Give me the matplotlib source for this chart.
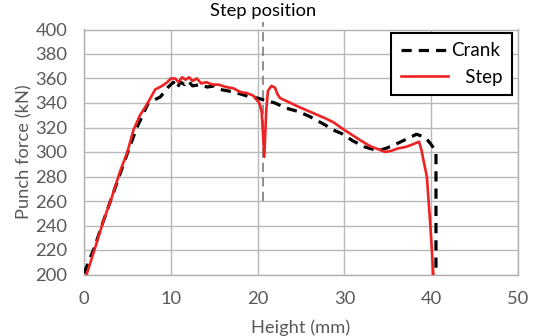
import matplotlib
matplotlib.use("Agg")
import matplotlib.pyplot as plt

crank_x = [0.0, 1.2, 2.2, 3.2, 4.5, 5.3, 6.1, 7.4, 8.8, 9.7, 10.3, 10.7, 11.1, 11.6, 12.0, 12.5,
           13.4, 14.2, 15.0, 15.7, 16.5, 17.2, 18.2, 19.1, 20.0, 20.7, 21.5, 22.0, 23.35, 24.7,
           26.0, 27.8, 28.7, 29.7, 31.0, 32.4, 33.9, 34.8, 35.8, 37.0, 38.3, 39.3, 39.9, 40.4,
           40.55, 40.55]
crank_y = [201, 222, 243, 263, 289, 305, 320, 340, 345, 353, 357, 352, 357, 355, 358, 354,
           355, 353, 354, 351, 350, 349, 347, 345, 344, 342.5, 341, 340, 335.7, 333,
           329, 322, 318, 315, 309, 304, 301, 303, 306, 310, 314.5, 312, 307, 302,
           300, 200]

red_x = [0.3, 1.2, 2.2, 3.2, 4.15, 5.0, 5.7, 6.45, 7.0, 7.5, 8.2, 9.0, 9.6, 10.0, 10.5, 10.9,
         11.3, 11.7, 12.1, 12.5, 13.0, 13.5, 14.1, 14.8, 15.5, 16.4, 17.2, 18.0, 18.8, 19.5,
         19.9, 20.2, 20.47, 20.77, 21.0, 21.2, 21.6, 22.0, 22.3, 22.6, 23.5, 24.7, 26.0, 27.8,
         28.8, 29.7, 31.2, 32.2, 33.1, 34.0, 34.7, 35.4, 36.2, 37.0, 37.8, 38.6, 38.9, 39.1,
         39.5, 39.9, 40.25]
red_y = [200, 220, 243, 263, 284, 300, 318, 330, 336, 342, 351, 354, 357, 360, 360, 357,
         361, 359, 361, 358, 360, 356, 357, 355, 355, 353, 352, 349, 348, 346,
         342.5, 340, 333, 296, 335, 350, 354, 352.5, 347, 344, 341, 337, 333, 327.5,
         324, 319.4, 312.5, 308, 304.3, 302, 300, 301, 303, 304, 306, 308.4, 301, 293.5,
         280, 240, 200]

step_pos = 20.66
xticks = [0, 10, 20, 30, 40, 50]
yticks = [200, 220, 240, 260, 280, 300, 320, 340, 360, 380, 400]

plt.rcParams['font.family'] = ['Lato', 'DejaVu Sans']
grey = '#595959'
fs = 13.2

fig = plt.figure(figsize=(5.35, 3.36), dpi=100)
ax = fig.add_axes([84/535, 1-274.5/336, 434/535, 245/336])

ax.plot(crank_x, crank_y, color='black', lw=2.3, ls=(0, (3.2, 2.2)), label='Crank', zorder=3)
ax.plot(red_x, red_y, color='#ee2222', lw=1.9, label='Step', zorder=4)

ax.plot([step_pos, step_pos], [260, 406], color='#707070', lw=1.1, ls=(0, (6, 3.5)),
        clip_on=False, zorder=2)
ax.text(step_pos, 408.5, 'Step position', ha='center', va='bottom', fontsize=fs, color='black')

ax.set_xlim(0, 50)
ax.set_ylim(200, 400)
ax.set_xticks(xticks)
ax.set_yticks(yticks)
ax.grid(True, color='#b8b8b8', lw=1.0)
ax.set_axisbelow(True)
for s in ax.spines.values():
    s.set_color('#b0b0b0')
    s.set_linewidth(1.0)
ax.tick_params(length=0, labelsize=fs, labelcolor=grey)
ax.tick_params(axis='x', pad=12)
ax.tick_params(axis='y', pad=12)
ax.set_xlabel('Height (mm)', fontsize=fs, color=grey, labelpad=9)
ax.set_ylabel('Punch force (kN)', fontsize=fs, color=grey, labelpad=2)

leg = ax.legend(labels=['Crank', '   Step'], handles=ax.get_lines()[:2],
                loc='upper right', bbox_to_anchor=(0.987, 0.986), fontsize=13.5,
                frameon=True, fancybox=False, handlelength=2.5, handletextpad=0.2,
                borderpad=0.5, labelspacing=0.5, borderaxespad=0)
leg.get_frame().set_edgecolor('black')
leg.get_frame().set_linewidth(1.5)
leg.get_frame().set_alpha(1)

fig.savefig('out.png', dpi=100)
